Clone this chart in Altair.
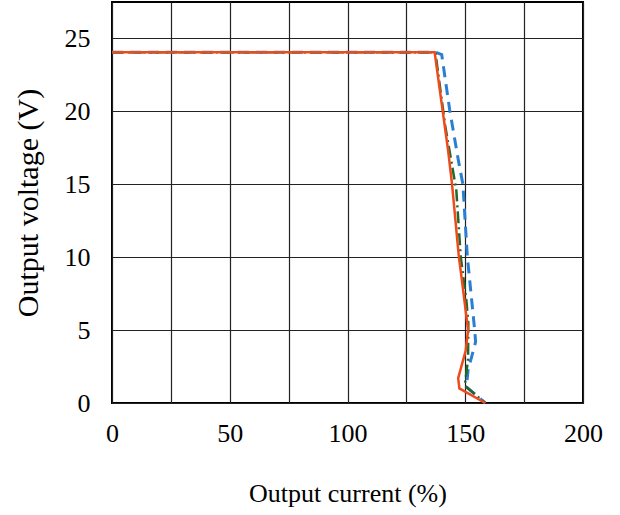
import altair as alt
import pandas as pd

# Output voltage vs. output current (% of rated) for three test units
red_current = [0, 137.0, 142.7, 144.4, 147.3, 148.6, 151.2, 150.2, 147.0, 147.5, 158.5]
red_voltage = [24.05, 24.05, 17.35, 15.0, 10.0, 8.4, 5.0, 3.6, 1.7, 1.0, 0]

green_current = [0, 137.3, 141.5, 146.2, 148.1, 150.5, 151.3, 151.2, 149.8, 158.5]
green_voltage = [24.05, 24.05, 19.0, 14.6, 10.0, 7.0, 5.5, 3.0, 1.2, 0]

blue_current = [0, 137.5, 140.0, 140.8, 143.4, 146.9, 149.0, 150.9, 151.9, 154.0, 154.4, 151.2, 150.5, 158.5]
blue_voltage = [24.05, 24.05, 23.9, 23.0, 20.1, 16.8, 15.0, 10.0, 8.4, 5.0, 4.2, 2.25, 1.1, 0]

x_ticks = [0, 25, 50, 75, 100, 125, 150, 175, 200]
y_ticks = [0, 5, 10, 15, 20, 25]

FONT = "Liberation Serif"


def series(name, cur, volt):
    return pd.DataFrame({"unit": name, "current": cur, "voltage": volt, "order": range(len(cur))})


x_enc = alt.X(
    "current:Q",
    scale=alt.Scale(domain=[0, 200], nice=False, zero=False),
    axis=alt.Axis(
        values=x_ticks,
        labelExpr="datum.value % 50 == 0 ? datum.label : ''",
        title="Output current (%)",
        grid=True,
        ticks=False,
        domain=False,
        labelFlush=False,
        labelPadding=30,
        labelBaseline="middle",
        titleY=90,
        titleBaseline="middle",
        titleFontSize=26,
    ),
)
y_enc = alt.Y(
    "voltage:Q",
    scale=alt.Scale(domain=[0, 27.5], nice=False),
    axis=alt.Axis(
        values=y_ticks,
        title="Output voltage (V)",
        grid=True,
        ticks=False,
        domain=False,
        labelFlush=False,
        labelPadding=22,
        titleX=-84,
        titleBaseline="middle",
        titleFontSize=30,
    ),
)

blue = alt.Chart(series("blue", blue_current, blue_voltage)).mark_line(
    color="#2b7fd2", strokeWidth=3, strokeDash=[11, 7]
).encode(x=x_enc, y=y_enc, order="order:Q")

green = alt.Chart(series("green", green_current, green_voltage)).mark_line(
    color="#1f6a2e", strokeWidth=2.5, strokeDash=[12, 4, 2, 4]
).encode(x=x_enc, y=y_enc, order="order:Q")

red = alt.Chart(series("red", red_current, red_voltage)).mark_line(
    color="#ef4a1c", strokeWidth=2.5
).encode(x=x_enc, y=y_enc, order="order:Q")

chart = (
    alt.layer(blue, green, red)
    .properties(
        width=471,
        height=401,
        autosize=alt.AutoSizeParams(type="none"),
        padding={"left": 112, "top": 2, "right": 37, "bottom": 112},
        background="white",
    )
    .configure_view(stroke="black", strokeWidth=2)
    .configure_axis(
        gridColor="#222222",
        gridWidth=1.2,
        gridOpacity=1,
        labelFont=FONT,
        labelFontSize=26,
        labelColor="black",
        titleFont=FONT,
        titleFontWeight="normal",
        titleColor="black",
    )
)

chart.save("out.html", embed_options={"renderer": "svg", "actions": False})
